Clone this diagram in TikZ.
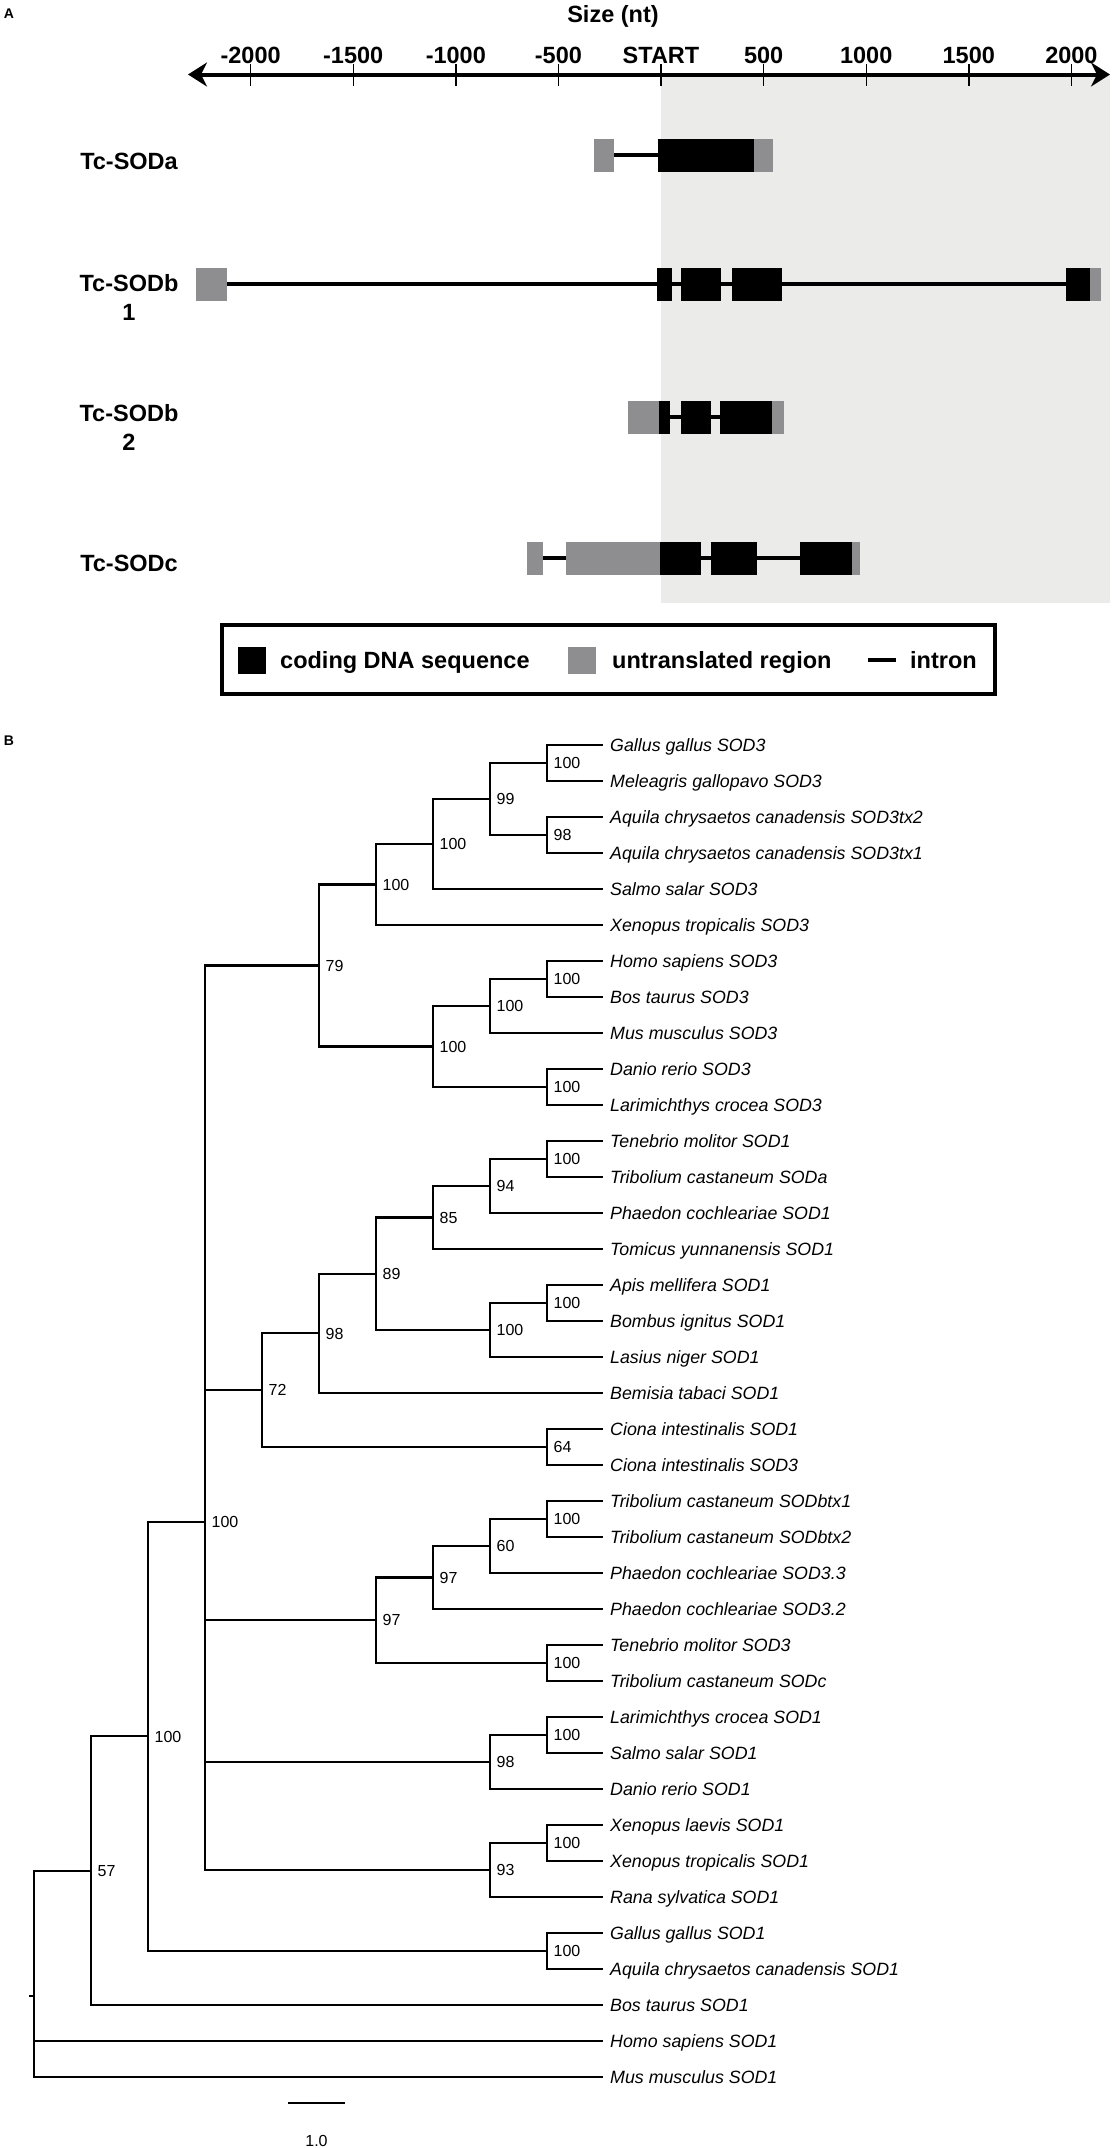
\documentclass[tikz,border=0pt]{standalone}
\usepackage{fontspec}
\setmainfont{Liberation Sans}
\usetikzlibrary{arrows.meta}
\definecolor{bgshade}{RGB}{235,235,233}
\definecolor{utrgray}{RGB}{142,142,144}
\newcommand\treenode[4]{\coordinate (#1) at (#2,#3);\node[boot] (b#1) at (#2+6.5,#3+5.7) {#4};}
\begin{document}
\begin{tikzpicture}[x=1pt,y=-1pt,
  panelA/.style={font=\fontsize{23.5}{29}\selectfont\bfseries, inner sep=0pt},
  panlab/.style={font=\fontsize{14}{16}\selectfont\bfseries, inner sep=0pt},
  intron/.style={line width=4.5pt},
  cds/.style={fill=black},
  utrbox/.style={fill=utrgray},
  branch/.style={line width=2.1pt},
  leaflab/.style={font=\fontsize{17.8}{20}\selectfont\itshape, anchor=base west, inner sep=0pt},
  boot/.style={font=\fontsize{16}{18}\selectfont, anchor=base west, inner sep=0pt}
]
\useasboundingbox (0,0) rectangle (1112,2148);

% ---------------- Panel A ----------------
\node[panlab] (labA) at (9,14) {A};
\node[panelA, anchor=base] (sizelab) at (613,22) {Size (nt)};

\fill[bgshade] (661,74.5) rectangle (1110,603);

\draw[line width=4pt, {Stealth[length=19pt,width=24pt,inset=6pt]}-{Stealth[length=19pt,width=24pt,inset=6pt]}] (188,74.5) -- (1110,74.5);
\foreach \v/\lab in {-2000/-2000,-1500/-1500,-1000/-1000,-500/-500,0/START,500/500,1000/1000,1500/1500,2000/2000}{
  \pgfmathsetmacro\xx{661+0.2052*\v}
  \draw[line width=1.4pt] (\xx,64) -- (\xx,86);
  \node[panelA, anchor=base] at (\xx,63) {\lab};
}

% gene labels
\node[panelA, anchor=base] (lsoda) at (129,169.4) {Tc-SODa};
\node[panelA, align=center, anchor=north] (lsodb1) at (129,274.5) {Tc-SODb\\1};
\node[panelA, align=center, anchor=north] (lsodb2) at (129,404.6) {Tc-SODb\\2};
\node[panelA, anchor=base] (lsodc) at (129,571.4) {Tc-SODc};

% Tc-SODa (centre 155)
\draw[intron] (614,155) -- (658,155);
\fill[utrbox] (594,138.5) rectangle (614,171.5);
\fill[cds] (658,138.5) rectangle (754,171.5);
\fill[utrbox] (754,138.5) rectangle (773,171.5);

% Tc-SODb 1 (centre 284)
\draw[intron] (227,284) -- (1066,284);
\fill[utrbox] (196,267.5) rectangle (227,300.5);
\fill[cds] (657,267.5) rectangle (672,300.5);
\fill[cds] (681,267.5) rectangle (721,300.5);
\fill[cds] (732,267.5) rectangle (782,300.5);
\fill[cds] (1066,267.5) rectangle (1090,300.5);
\fill[utrbox] (1090,267.5) rectangle (1101,300.5);

% Tc-SODb 2 (centre 417)
\draw[intron] (659,417) -- (772,417);
\fill[utrbox] (628,400.5) rectangle (659,433.5);
\fill[cds] (659,400.5) rectangle (670,433.5);
\fill[cds] (681,400.5) rectangle (711,433.5);
\fill[cds] (720,400.5) rectangle (772,433.5);
\fill[utrbox] (772,400.5) rectangle (784,433.5);

% Tc-SODc (centre 558)
\draw[intron] (543,558) -- (800,558);
\fill[utrbox] (527,541.5) rectangle (543,574.5);
\fill[utrbox] (566,541.5) rectangle (660,574.5);
\fill[cds] (660,541.5) rectangle (701,574.5);
\fill[cds] (711,541.5) rectangle (757,574.5);
\fill[cds] (800,541.5) rectangle (852,574.5);
\fill[utrbox] (852,541.5) rectangle (860,574.5);

% legend
\draw[line width=4pt] (221.5,625) rectangle (995,694);
\fill[black] (238,647) rectangle (266,674);
\node[panelA, anchor=base west] (lgcds) at (280,668.4) {coding DNA sequence};
\fill[utrgray] (568,647) rectangle (596,674);
\node[panelA, anchor=base west] (lgutr) at (612,668.4) {untranslated region};
\draw[line width=4pt] (868,660) -- (896,660);
\node[panelA, anchor=base west] (lgint) at (910,668.4) {intron};

% ---------------- Panel B ----------------
\node[panlab] (labB) at (9,741) {B};

\foreach \nm [count=\i from 0] in {Gallus gallus SOD3, Meleagris gallopavo SOD3, Aquila chrysaetos canadensis SOD3tx2, Aquila chrysaetos canadensis SOD3tx1, Salmo salar SOD3, Xenopus tropicalis SOD3, Homo sapiens SOD3, Bos taurus SOD3, Mus musculus SOD3, Danio rerio SOD3, Larimichthys crocea SOD3, Tenebrio molitor SOD1, Tribolium castaneum SODa, Phaedon cochleariae SOD1, Tomicus yunnanensis SOD1, Apis mellifera SOD1, Bombus ignitus SOD1, Lasius niger SOD1, Bemisia tabaci SOD1, Ciona intestinalis SOD1, Ciona intestinalis SOD3, Tribolium castaneum SODbtx1, Tribolium castaneum SODbtx2, Phaedon cochleariae SOD3.3, Phaedon cochleariae SOD3.2, Tenebrio molitor SOD3, Tribolium castaneum SODc, Larimichthys crocea SOD1, Salmo salar SOD1, Danio rerio SOD1, Xenopus laevis SOD1, Xenopus tropicalis SOD1, Rana sylvatica SOD1, Gallus gallus SOD1, Aquila chrysaetos canadensis SOD1, Bos taurus SOD1, Homo sapiens SOD1, Mus musculus SOD1}{
  \pgfmathsetmacro\yy{745+36*\i}
  \coordinate (l\i) at (603,\yy);
  \node[leaflab] (t\i) at (610,\yy+6.4) {\nm};
}

\treenode{a1}{547}{763}{100}
\treenode{a2}{547}{835}{98}
\treenode{a3}{490}{799}{99}
\treenode{a4}{433}{844}{100}
\treenode{a5}{376}{884.5}{100}
\treenode{b1}{547}{979}{100}
\treenode{b2}{490}{1006}{100}
\treenode{b3}{547}{1087}{100}
\treenode{b4}{433}{1046.5}{100}
\treenode{c79}{319}{965.5}{79}
\treenode{d1}{547}{1159}{100}
\treenode{d2}{490}{1186}{94}
\treenode{d3}{433}{1217.5}{85}
\treenode{d4}{547}{1303}{100}
\treenode{d5}{490}{1330}{100}
\treenode{d6}{376}{1273.75}{89}
\treenode{d7}{319}{1333.4}{98}
\treenode{d8}{547}{1447}{64}
\treenode{d9}{262}{1390.2}{72}
\treenode{e1}{547}{1519}{100}
\treenode{e2}{490}{1546}{60}
\treenode{e3}{433}{1577.5}{97}
\treenode{e4}{547}{1663}{100}
\treenode{e5}{376}{1620.25}{97}
\treenode{f1}{547}{1735}{100}
\treenode{f2}{490}{1762}{98}
\treenode{f3}{547}{1843}{100}
\treenode{f4}{490}{1870}{93}
\treenode{g}{205}{1521.6}{100}
\treenode{h1}{547}{1951}{100}
\treenode{h}{148}{1736.3}{100}
\treenode{k}{91}{1870.65}{57}
\coordinate (root) at (34,1996.2);
\coordinate (rootstub) at (29,1996.2);

\draw[branch] (a1) |- (l0) (a1) |- (l1);
\draw[branch] (a2) |- (l2) (a2) |- (l3);
\draw[branch] (a3) |- (a1) (a3) |- (a2);
\draw[branch] (a4) |- (a3) (a4) |- (l4);
\draw[branch] (a5) |- (a4) (a5) |- (l5);
\draw[branch] (b1) |- (l6) (b1) |- (l7);
\draw[branch] (b2) |- (b1) (b2) |- (l8);
\draw[branch] (b3) |- (l9) (b3) |- (l10);
\draw[branch] (b4) |- (b2) (b4) |- (b3);
\draw[branch] (c79) |- (a5) (c79) |- (b4);
\draw[branch] (d1) |- (l11) (d1) |- (l12);
\draw[branch] (d2) |- (d1) (d2) |- (l13);
\draw[branch] (d3) |- (d2) (d3) |- (l14);
\draw[branch] (d4) |- (l15) (d4) |- (l16);
\draw[branch] (d5) |- (d4) (d5) |- (l17);
\draw[branch] (d6) |- (d3) (d6) |- (d5);
\draw[branch] (d7) |- (d6) (d7) |- (l18);
\draw[branch] (d8) |- (l19) (d8) |- (l20);
\draw[branch] (d9) |- (d7) (d9) |- (d8);
\draw[branch] (e1) |- (l21) (e1) |- (l22);
\draw[branch] (e2) |- (e1) (e2) |- (l23);
\draw[branch] (e3) |- (e2) (e3) |- (l24);
\draw[branch] (e4) |- (l25) (e4) |- (l26);
\draw[branch] (e5) |- (e3) (e5) |- (e4);
\draw[branch] (f1) |- (l27) (f1) |- (l28);
\draw[branch] (f2) |- (f1) (f2) |- (l29);
\draw[branch] (f3) |- (l30) (f3) |- (l31);
\draw[branch] (f4) |- (f3) (f4) |- (l32);
\draw[branch] (g) |- (c79) (g) |- (d9) (g) |- (e5) (g) |- (f2) (g) |- (f4);
\draw[branch] (h1) |- (l33) (h1) |- (l34);
\draw[branch] (h) |- (g) (h) |- (h1);
\draw[branch] (k) |- (h) (k) |- (l35);
\draw[branch] (root) |- (k) (root) |- (l36) (root) |- (l37);
\draw[branch] (rootstub) -- (root);

% scale bar
\coordinate (sb1) at (288,2103);
\coordinate (sb2) at (345,2103);
\draw[line width=2.2pt] (sb1) -- (sb2);
\node[font=\fontsize{16}{18}\selectfont, anchor=base, inner sep=0pt] (sblab) at (316.5,2146) {1.0};
\end{tikzpicture}
\end{document}
